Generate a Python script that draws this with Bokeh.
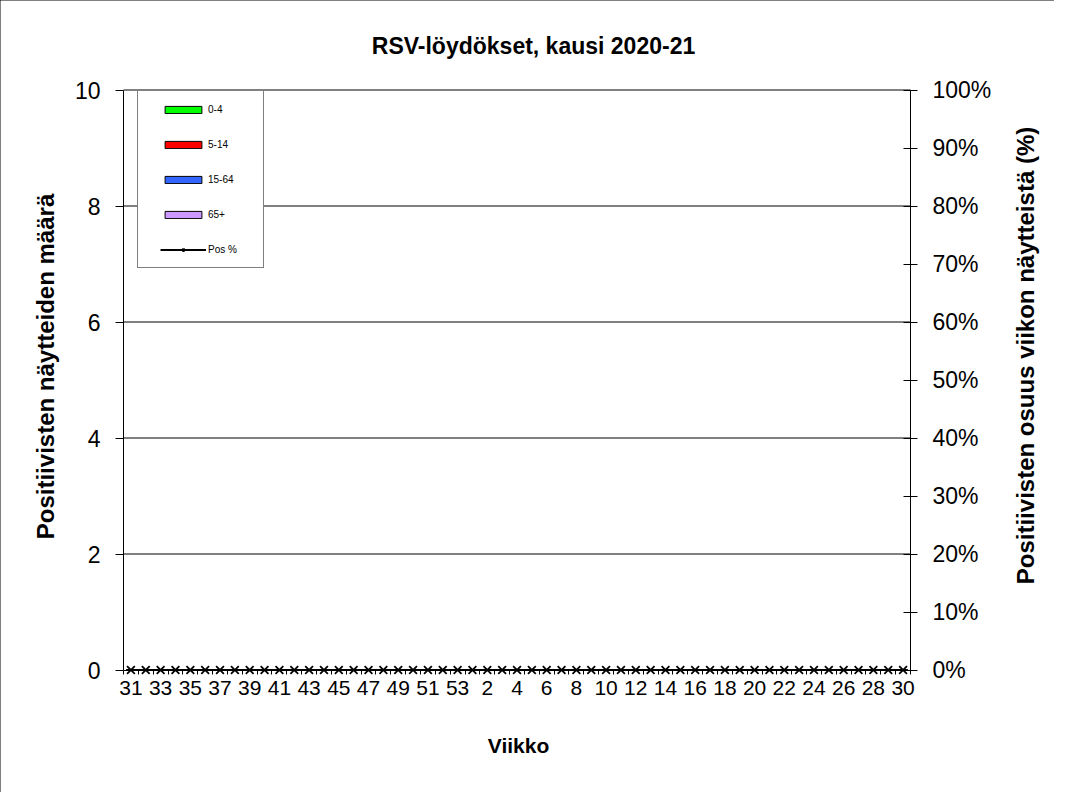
import math
from bokeh.plotting import figure
from bokeh.models import (Range1d, LinearAxis, FixedTicker, PrintfTickFormatter,
                          Legend, LegendItem, ColumnDataSource, Label)
from bokeh.embed import file_html
from bokeh.resources import INLINE

# ---- data -------------------------------------------------------------
weeks = ["31", "32", "33", "34", "35", "36", "37", "38", "39", "40", "41", "42",
         "43", "44", "45", "46", "47", "48", "49", "50", "51", "52", "53",
         "1", "2", "3", "4", "5", "6", "7", "8", "9", "10", "11", "12", "13",
         "14", "15", "16", "17", "18", "19", "20", "21", "22", "23", "24", "25",
         "26", "27", "28", "29", "30"]
age_0_4 = [0, 0, 0, 0, 0, 0, 0, 0, 0, 0, 0, 0, 0, 0, 0, 0, 0, 0, 0, 0, 0, 0, 0,
           0, 0, 0, 0, 0, 0, 0, 0, 0, 0, 0, 0, 0, 0, 0, 0, 0, 0, 0, 0, 0, 0, 0,
           0, 0, 0, 0, 0, 0, 0]
age_5_14 = [0, 0, 0, 0, 0, 0, 0, 0, 0, 0, 0, 0, 0, 0, 0, 0, 0, 0, 0, 0, 0, 0, 0,
            0, 0, 0, 0, 0, 0, 0, 0, 0, 0, 0, 0, 0, 0, 0, 0, 0, 0, 0, 0, 0, 0, 0,
            0, 0, 0, 0, 0, 0, 0]
age_15_64 = [0, 0, 0, 0, 0, 0, 0, 0, 0, 0, 0, 0, 0, 0, 0, 0, 0, 0, 0, 0, 0, 0, 0,
             0, 0, 0, 0, 0, 0, 0, 0, 0, 0, 0, 0, 0, 0, 0, 0, 0, 0, 0, 0, 0, 0, 0,
             0, 0, 0, 0, 0, 0, 0]
age_65 = [0, 0, 0, 0, 0, 0, 0, 0, 0, 0, 0, 0, 0, 0, 0, 0, 0, 0, 0, 0, 0, 0, 0,
          0, 0, 0, 0, 0, 0, 0, 0, 0, 0, 0, 0, 0, 0, 0, 0, 0, 0, 0, 0, 0, 0, 0,
          0, 0, 0, 0, 0, 0, 0]
pos_pct = [0, 0, 0, 0, 0, 0, 0, 0, 0, 0, 0, 0, 0, 0, 0, 0, 0, 0, 0, 0, 0, 0, 0,
           0, 0, 0, 0, 0, 0, 0, 0, 0, 0, 0, 0, 0, 0, 0, 0, 0, 0, 0, 0, 0, 0, 0,
           0, 0, 0, 0, 0, 0, 0]
series_labels = ["0-4", "5-14", "15-64", "65+"]
series_colors = ["#00FF00", "#FF0000", "#3366FF", "#CC99FF"]
left_ticks = [0, 2, 4, 6, 8, 10]
right_ticks = [0, 10, 20, 30, 40, 50, 60, 70, 80, 90, 100]
grid_values = [2, 4, 6, 8]
y_max = 10
pct_max = 100
title_text = "RSV-löydökset, kausi 2020-21"
left_label = "Positiivisten näytteiden määrä"
right_label = "Positiivisten osuus viikon näytteistä (%)"
x_label = "Viikko"

FONT = "Liberation Sans"

# ---- layout (pixels) --------------------------------------------------
W, H = 1054, 792
PL, PR, PT, PB = 123, 910, 89.5, 669.5   # plot area edges
n = len(weeks)
kx = (PR - PL) / n
ky = (PB - PT) / y_max
x_rng = Range1d(-PL / kx, n + (W - PR) / kx)
y_rng = Range1d(-(H - PB) / ky, y_max + PT / ky)
s = pct_max / y_max
pct_rng = Range1d(y_rng.start * s, y_rng.end * s)

xpos = [i + 0.5 for i in range(n)]
src = ColumnDataSource(dict(x=xpos, a=age_0_4, b=age_5_14, c=age_15_64,
                            d=age_65, pct=pos_pct))

p = figure(width=W, height=H, output_backend="svg", toolbar_location=None,
           x_range=x_rng, y_range=y_rng, min_border=0,
           min_border_left=0, min_border_right=0,
           min_border_top=0, min_border_bottom=0)
p.extra_y_ranges = {"pct": pct_rng}
p.outline_line_color = None
p.border_fill_color = None
p.background_fill_color = "white"
p.styles = {"box-shadow": "inset 1px 1px 0 0 black", "background-color": "white"}
p.xgrid.visible = False
p.ygrid.visible = False

# grid lines limited to the plot area
p.segment(x0=[0] * len(grid_values), x1=[n] * len(grid_values),
          y0=grid_values, y1=grid_values, line_color="black", line_width=1)
p.segment(x0=[0], x1=[n], y0=[y_max], y1=[y_max], line_color="#808080",
          line_width=2)

# bars (stacked), Pos % line
bars = p.vbar_stack(["a", "b", "c", "d"], x="x", width=0.6, source=src,
                    fill_color=series_colors, line_color="black", line_width=1)
ln = p.line("x", "pct", source=src, y_range_name="pct", color="black", line_width=2)
sc = p.scatter("x", "pct", source=src, y_range_name="pct", marker="x", size=11,
               line_width=1.8, color="black")
ghost = p.scatter(x=[], y=[], marker="square", alpha=0)

# left axis
ya = p.yaxis[0]
ya.fixed_location = 0
ya.ticker = FixedTicker(ticks=left_ticks)
ya.bounds = (0, y_max)
ya.major_tick_out = 8
ya.major_tick_in = 0
ya.major_label_standoff = 15

# right axis
ra = LinearAxis(y_range_name="pct", ticker=FixedTicker(ticks=right_ticks),
                formatter=PrintfTickFormatter(format="%d%%"), bounds=(0, pct_max))
ra.fixed_location = n
ra.major_tick_out = 7
ra.major_tick_in = 7
ra.major_label_standoff = 15
p.add_layout(ra, "right")

# bottom axis
xa = p.xaxis[0]
xa.fixed_location = 0
xa.bounds = (0, n)
xa.ticker = FixedTicker(ticks=[xpos[i] for i in range(0, n, 2)],
                        minor_ticks=list(range(n + 1)))
xa.major_label_overrides = {xpos[i]: weeks[i] for i in range(0, n, 2)}
xa.major_tick_out = 0
xa.major_tick_in = 0
xa.minor_tick_in = 0
xa.minor_tick_out = 4
xa.major_label_standoff = 7

for ax in (ya, ra):
    ax.minor_tick_out = 0
    ax.minor_tick_in = 0
for ax in (ya, ra, xa):
    ax.axis_line_color = "black"
    ax.axis_line_width = 1
    ax.major_tick_line_color = "black"
    ax.minor_tick_line_color = "black"
    ax.major_label_text_font = FONT
    ax.major_label_text_color = "black"
ya.major_label_text_font_size = "23px"
ra.major_label_text_font_size = "23px"
xa.major_label_text_font_size = "21px"

# titles (pixel centres, measured from top-left)
def add_text(txt, cx, cy, size, angle=0.0):
    p.add_layout(Label(x=cx, y=H - cy, x_units="screen", y_units="screen",
                       text=txt, text_font=FONT, text_font_size=size,
                       text_font_style="bold", text_color="black",
                       text_align="center", text_baseline="middle",
                       angle=angle))

add_text(title_text, 533, 45, "23px")
add_text(left_label, 45, 366, "24px", math.pi / 2)
add_text(right_label, 1025, 355, "24px", math.pi / 2)
add_text(x_label, 518, 745, "21px")

# legend box (frame only)
box_leg = Legend(items=[LegendItem(label=" ", renderers=[ghost])],
                 location=(137, H - 92 - 176), padding=0,
                 glyph_width=100, glyph_height=176, label_height=176,
                 label_width=25, label_standoff=0,
                 border_line_color="black", border_line_width=1,
                 background_fill_color="white", background_fill_alpha=1.0,
                 label_text_font_size="1px", label_text_alpha=0)
# real legend
items = [LegendItem(label=series_labels[i], renderers=[bars[i]]) for i in range(4)]
items.append(LegendItem(label="Pos %", renderers=[ln, sc]))
leg = Legend(items=items, location=(160, H - 99 - 160), padding=0, spacing=15,
             glyph_width=46, glyph_height=9, label_height=20, label_standoff=2,
             label_text_font=FONT, label_text_font_size="10px",
             label_text_color="black",
             border_line_color=None, background_fill_alpha=0)
p.add_layout(box_leg, "center")
p.add_layout(leg, "center")

open("out.html", "w").write(file_html(p, INLINE))
